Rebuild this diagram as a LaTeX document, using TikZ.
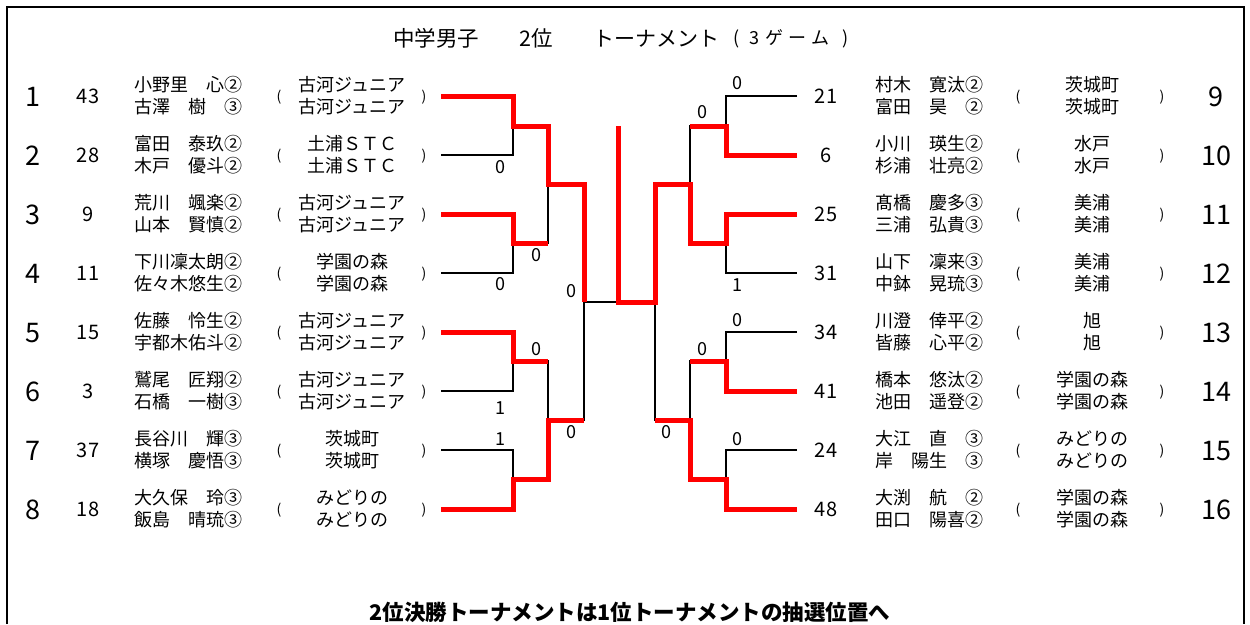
\documentclass[tikz,border=0pt]{standalone}
\usepackage{fontspec}
\setmainfont{Noto Sans CJK JP}
\begin{document}
\begin{tikzpicture}[x=1pt,y=-1pt,
  seednum/.style={inner sep=0pt,text height=23.76pt,text depth=3.24pt,font=\fontsize{27}{27}\selectfont},
  drawnum/.style={inner sep=0pt,text height=17.6pt,text depth=2.4pt,font=\fontsize{20}{20}\selectfont},
  pname/.style={inner sep=0pt,text height=15.84pt,text depth=2.16pt,font=\fontsize{18}{18}\selectfont},
  paren/.style={inner sep=0pt,text height=12.32pt,text depth=1.68pt,font=\fontsize{14}{14}\selectfont},
  score/.style={inner sep=0pt,text height=15.84pt,text depth=2.16pt,font=\fontsize{18}{18}\selectfont},
  ttl/.style={inner sep=0pt,text height=18.9pt,text depth=2.6pt,anchor=west,font=\fontsize{21.5}{21.5}\selectfont},
  ttls/.style={inner sep=0pt,text height=15.84pt,text depth=2.16pt,font=\fontsize{18}{18}\selectfont},
  notestyle/.style={inner sep=0pt,text height=18.9pt,text depth=2.6pt,font=\fontsize{21.5}{21.5}\selectfont\bfseries},
  bk/.style={line width=1.8pt,black},
  rd/.style={line width=5pt,red,line join=miter},
  frame/.style={line width=2pt,black}
]
\useasboundingbox (0,0) rectangle (1250,624);
% frame
\coordinate (fa) at (7,624);
\coordinate (fb) at (7,7);
\coordinate (fc) at (1244,7);
\coordinate (fd) at (1244,624);
\draw[frame] (fa) -- (fb) -- (fc) -- (fd);

% title
\node[ttl] (t1) at (393,38) {中学男子};
\node[ttl] (t2) at (519,38) {2位};
\node[ttl,font=\fontsize{21}{21}\selectfont] (t3) at (593,38) {トーナメント};
\node[ttls] (t4) at (737,38) {(};
\node[ttls] (t5) at (754,38) {3};
\node[ttls] (t6) at (774,38) {ゲ};
\node[ttls] (t7) at (797,38) {ー};
\node[ttls] (t8) at (820,38) {ム};
\node[ttls] (t9) at (846,38) {)};

% left entries
\foreach \i/\y/\d/\na/\nb/\t in {
 1/96/43/小野里　心②/古澤　樹　③/古河ジュニア,
 2/155/28/富田　泰玖②/木戸　優斗②/土浦ＳＴＣ,
 3/214/9/荒川　颯楽②/山本　賢慎②/古河ジュニア,
 4/273/11/下川凜太朗②/佐々木悠生②/学園の森,
 5/332/15/佐藤　怜生②/宇都木佑斗②/古河ジュニア,
 6/391/3/鷲尾　匠翔②/石橋　一樹③/古河ジュニア,
 7/450/37/長谷川　輝③/横塚　慶悟③/茨城町,
 8/509/18/大久保　玲③/飯島　晴琉③/みどりの}{
  \coordinate (a\i) at (441,\y);
  \node[seednum] (ls\i) at (33,\y) {\i};
  \node[drawnum] (ld\i) at (88,\y) {\d};
  \node[pname,anchor=west] (lna\i) at (134,\y-11) {\na};
  \node[pname,anchor=west] (lnb\i) at (134,\y+11) {\nb};
  \node[paren] (lpo\i) at (279,\y) {(};
  \node[pname] (lta\i) at (352,\y-11) {\t};
  \node[pname] (ltb\i) at (352,\y+11) {\t};
  \node[paren] (lpc\i) at (424,\y) {)};
}

% right entries
\foreach \i/\j/\y/\d/\na/\nb/\t in {
 9/1/96/21/村木　寛汰②/富田　昊　②/茨城町,
 10/2/155/6/小川　瑛生②/杉浦　壮亮②/水戸,
 11/3/214/25/髙橋　慶多③/三浦　弘貴③/美浦,
 12/4/273/31/山下　凜来③/中鉢　晃琉③/美浦,
 13/5/332/34/川澄　倖平②/皆藤　心平②/旭,
 14/6/391/41/橋本　悠汰②/池田　遥登②/学園の森,
 15/7/450/24/大江　直　③/岸　陽生　③/みどりの,
 16/8/509/48/大渕　航　②/田口　陽喜②/学園の森}{
  \coordinate (b\j) at (797,\y);
  \node[seednum] (rs\i) at (1216,\y) {\i};
  \node[drawnum] (rd\i) at (826,\y) {\d};
  \node[pname,anchor=east] (rna\i) at (984,\y-11) {\na};
  \node[pname,anchor=east] (rnb\i) at (984,\y+11) {\nb};
  \node[paren] (rpo\i) at (1018,\y) {(};
  \node[pname] (rta\i) at (1092,\y-11) {\t};
  \node[pname] (rtb\i) at (1092,\y+11) {\t};
  \node[paren] (rpc\i) at (1162,\y) {)};
}

% junctions
\coordinate (m1) at (513,126);
\coordinate (m2) at (513,243);
\coordinate (m3) at (548,184);
\coordinate (m4) at (513,361);
\coordinate (m5) at (513,479);
\coordinate (m6) at (548,420);
\coordinate (m7) at (584,302);
\coordinate (f)  at (618,302);
\coordinate (top) at (618,126);
\coordinate (n1) at (726,126);
\coordinate (n2) at (726,243);
\coordinate (n3) at (690,184);
\coordinate (n4) at (726,361);
\coordinate (n5) at (726,479);
\coordinate (n6) at (690,420);
\coordinate (n7) at (655,302);

% black skeleton
\draw[bk] (a1) -| (m1) |- (a2);
\draw[bk] (a3) -| (m2) |- (a4);
\draw[bk] (a5) -| (m4) |- (a6);
\draw[bk] (a7) -| (m5) |- (a8);
\draw[bk] (m1) -| (m3) |- (m2);
\draw[bk] (m4) -| (m6) |- (m5);
\draw[bk] (m3) -| (m7) |- (m6);
\draw[bk] (m7) -- (f) -- (n7);
\draw[bk] (b1) -| (n1) |- (b2);
\draw[bk] (b3) -| (n2) |- (b4);
\draw[bk] (b5) -| (n4) |- (b6);
\draw[bk] (b7) -| (n5) |- (b8);
\draw[bk] (n1) -| (n3) |- (n2);
\draw[bk] (n4) -| (n6) |- (n5);
\draw[bk] (n3) -| (n7) |- (n6);

% winners in red
\draw[rd] (a1) -| (m1) -| (m3) -| (m7);
\draw[rd] (a3) -| (m2) -- (m2 -| m3);
\draw[rd] (a5) -| (m4) -- (m4 -| m6);
\draw[rd] (a8) -| (m5) -| (m6) -- (m6 -| m7);
\draw[rd] (top) -- (f) -- (n7) |- (n3) |- (n2) |- (b3);
\draw[rd] (b2) -| (n1) -- (n1 -| n3);
\draw[rd] (b6) -| (n4) -- (n4 -| n6);
\draw[rd] (b8) -| (n5) -| (n6) -- (n6 -| n7);

% scores
\node[score] (s1) at (500,167) {0};
\node[score] (s2) at (500,284) {0};
\node[score] (s3) at (536,255) {0};
\node[score] (s4) at (571,291) {0};
\node[score] (s5) at (536,349) {0};
\node[score] (s6) at (500,408) {1};
\node[score] (s7) at (500,439) {1};
\node[score] (s8) at (571,432) {0};
\node[score] (s9) at (737,83) {0};
\node[score] (s10) at (702,112) {0};
\node[score] (s11) at (737,285) {1};
\node[score] (s12) at (737,320) {0};
\node[score] (s13) at (702,349) {0};
\node[score] (s14) at (737,439) {0};
\node[score] (s15) at (666,432) {0};

% note
\node[notestyle] (note) at (630,612) {2位決勝トーナメントは1位トーナメントの抽選位置へ};
\end{tikzpicture}
\end{document}
